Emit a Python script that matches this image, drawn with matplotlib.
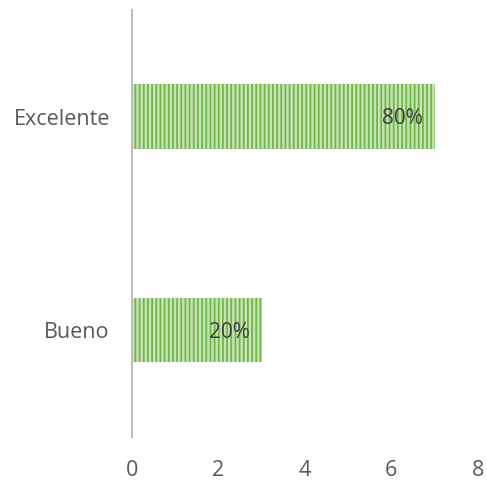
import matplotlib
matplotlib.use("Agg")
import matplotlib.pyplot as plt

categories = ["Bueno", "Excelente"]
values = [3, 7]
labels = ["20%", "80%"]
xticks = [0, 2, 4, 6, 8]

plt.rcParams['font.family'] = ['Open Sans', 'DejaVu Sans']
plt.rcParams['hatch.linewidth'] = 1.3

fig = plt.figure(figsize=(4.87, 4.87), dpi=100)
ax = fig.add_axes([0.271, 0.103, 0.71, 0.877])

bars = ax.barh(range(len(categories)), values, height=0.30,
               color='#c6e5b4', edgecolor='#72b54a', hatch='||||', linewidth=0)
for b, lab in zip(bars, labels):
    ax.text(b.get_width() - 0.27, b.get_y() + b.get_height() / 2 - 0.01, lab,
            ha='right', va='center', fontsize=15, color='#404040')

ax.set_xlim(0, 8)
ax.set_ylim(-0.5, 1.5)
ax.set_xticks(xticks)
ax.set_yticks(range(len(categories)))
ax.set_yticklabels(categories)
for s in ['top', 'right', 'bottom']:
    ax.spines[s].set_visible(False)
ax.spines['left'].set_color('#bfbfbf')
ax.spines['left'].set_linewidth(1.5)
ax.tick_params(axis='both', length=0, labelsize=15.5, colors='#595959')
ax.tick_params(axis='x', pad=17)
ax.tick_params(axis='y', pad=16)

fig.savefig("out.png", dpi=100, facecolor='white')
